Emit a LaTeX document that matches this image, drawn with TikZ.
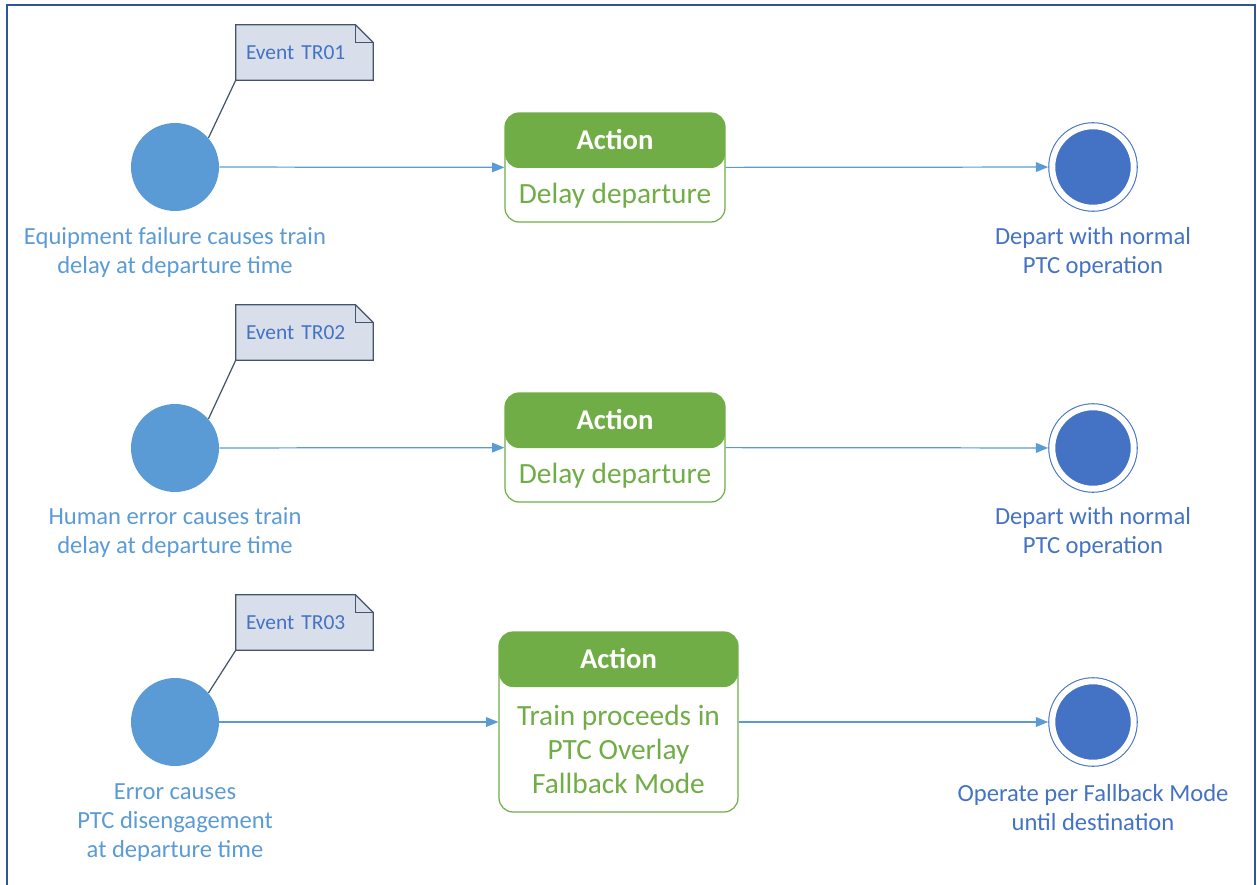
\documentclass[tikz,border=0pt]{standalone}
\usepackage{fontspec}
\setmainfont{Carlito}
\usetikzlibrary{arrows.meta, backgrounds}

\definecolor{startblue}{HTML}{5B9BD5}
\definecolor{finalblue}{HTML}{4472C4}
\definecolor{actgreen}{HTML}{70AD47}
\definecolor{notefill}{HTML}{D9DFEA}
\definecolor{notedraw}{HTML}{44546A}
\definecolor{framecol}{HTML}{2F5597}

% note outline with folded corner
\newcommand{\dogear}[1]{%
    \draw[notedraw, fill=notefill, line width=0.7pt]
        (#1.south west) -- (#1.north west) -- ([xshift=-0.36cm]#1.north east)
        -- ([yshift=-0.36cm]#1.north east) -- (#1.south east) -- cycle;
    \draw[notedraw, line width=0.7pt]
        ([xshift=-0.36cm]#1.north east) |- ([yshift=-0.36cm]#1.north east);}

\begin{document}
\begin{tikzpicture}[
        x=0.02cm, y=-0.02cm,
        >={Triangle[length=7pt, width=5.5pt]},
        start/.style={circle, fill=startblue, minimum size=1.76cm, inner sep=0pt},
        final/.style={circle, draw=finalblue, fill=finalblue, double=white,
            double distance=3.4pt, line width=0.6pt, minimum size=1.63cm,
            inner sep=0pt, outer sep=2.3pt},
        action/.style={draw=actgreen, line width=0.7pt, rounded corners=0.28cm,
            minimum width=4.4cm, minimum height=2.18cm, inner sep=0pt,
            path picture={\fill[actgreen] (path picture bounding box.north west)
                rectangle ([yshift=-1.1cm]path picture bounding box.north east);}},
        acthead/.style={text=white, font=\fontsize{16.3}{19}\selectfont\bfseries},
        actbody/.style={text=actgreen, align=center,
            font=\fontsize{16.7}{19.3}\selectfont},
        note/.style={text=finalblue, text width=2.34cm, inner xsep=0.2cm,
            minimum height=1.1cm, align=left, font=\fontsize{12.2}{14}\selectfont},
        startlabel/.style={text=startblue, align=center,
            font=\fontsize{14}{16.4}\selectfont},
        finallabel/.style={text=finalblue, align=center,
            font=\fontsize{14}{16.4}\selectfont},
        flow/.style={->, draw=startblue, line width=0.7pt},
        notelink/.style={draw=notedraw, line width=0.7pt}
    ]
    \useasboundingbox (0,0) rectangle (1257,885);
    \draw[framecol, line width=1.2pt] (7,900) -- (7,5) -- (1255,5) -- (1255,900);

    % row 1
    \node[start] (ini1) at (175,167) {};
    \node[note] (note1) at (304.5,52.5) {Event TR01};
    \node[startlabel] (ini1l) at (175,252.5)
        {Equipment failure causes train\\delay at departure time};
    \node[action] (act1) at (615,167.5) {};
    \node[acthead] (act1h) at ([yshift=-0.55cm]act1.north) {Action};
    \node[actbody] (act1b) at ([yshift=0.54cm]act1.south) {Delay departure};
    \node[final] (fin1) at (1093,167) {};
    \node[finallabel] (fin1l) at (1093,252.5)
        {Depart with normal\\PTC operation};

    % row 2
    \node[start] (ini2) at (175,448) {};
    \node[note] (note2) at (304.5,332.5) {Event TR02};
    \node[startlabel] (ini2l) at (175,532.5)
        {Human error causes train\\delay at departure time};
    \node[action] (act2) at (615,447.5) {};
    \node[acthead] (act2h) at ([yshift=-0.55cm]act2.north) {Action};
    \node[actbody] (act2b) at ([yshift=0.54cm]act2.south) {Delay departure};
    \node[final] (fin2) at (1093,448) {};
    \node[finallabel] (fin2l) at (1093,532.5)
        {Depart with normal\\PTC operation};

    % row 3
    \node[start] (ini3) at (175,722) {};
    \node[note] (note3) at (304.5,622.5) {Event TR03};
    \node[startlabel] (ini3l) at (175,822.5)
        {Error causes\\PTC disengagement\\at departure time};
    \node[action, minimum width=4.78cm, minimum height=3.6cm] (act3) at (618.5,722) {};
    \node[acthead] (act3h) at ([yshift=-0.55cm]act3.north) {Action};
    \node[actbody] (act3b) at ([yshift=1.26cm]act3.south)
        {Train proceeds in\\PTC Overlay\\Fallback Mode};
    \node[final] (fin3) at (1093,722) {};
    \node[finallabel] (fin3l) at (1093,807.5)
        {Operate per Fallback Mode\\until destination};

    \begin{scope}[on background layer]
        \dogear{note1}
        \dogear{note2}
        \dogear{note3}
    \end{scope}

    \draw[notelink] (note1.south west) -- (ini1.41);
    \draw[notelink] (note2.south west) -- (ini2.41);
    \draw[notelink] (note3.south west) -- (ini3.41);

    \draw[flow] (ini1) -- (act1);
    \draw[flow] (act1) -- (fin1);
    \draw[flow] (ini2) -- (act2);
    \draw[flow] (act2) -- (fin2);
    \draw[flow] (ini3) -- (act3);
    \draw[flow] (act3) -- (fin3);
\end{tikzpicture}
\end{document}
